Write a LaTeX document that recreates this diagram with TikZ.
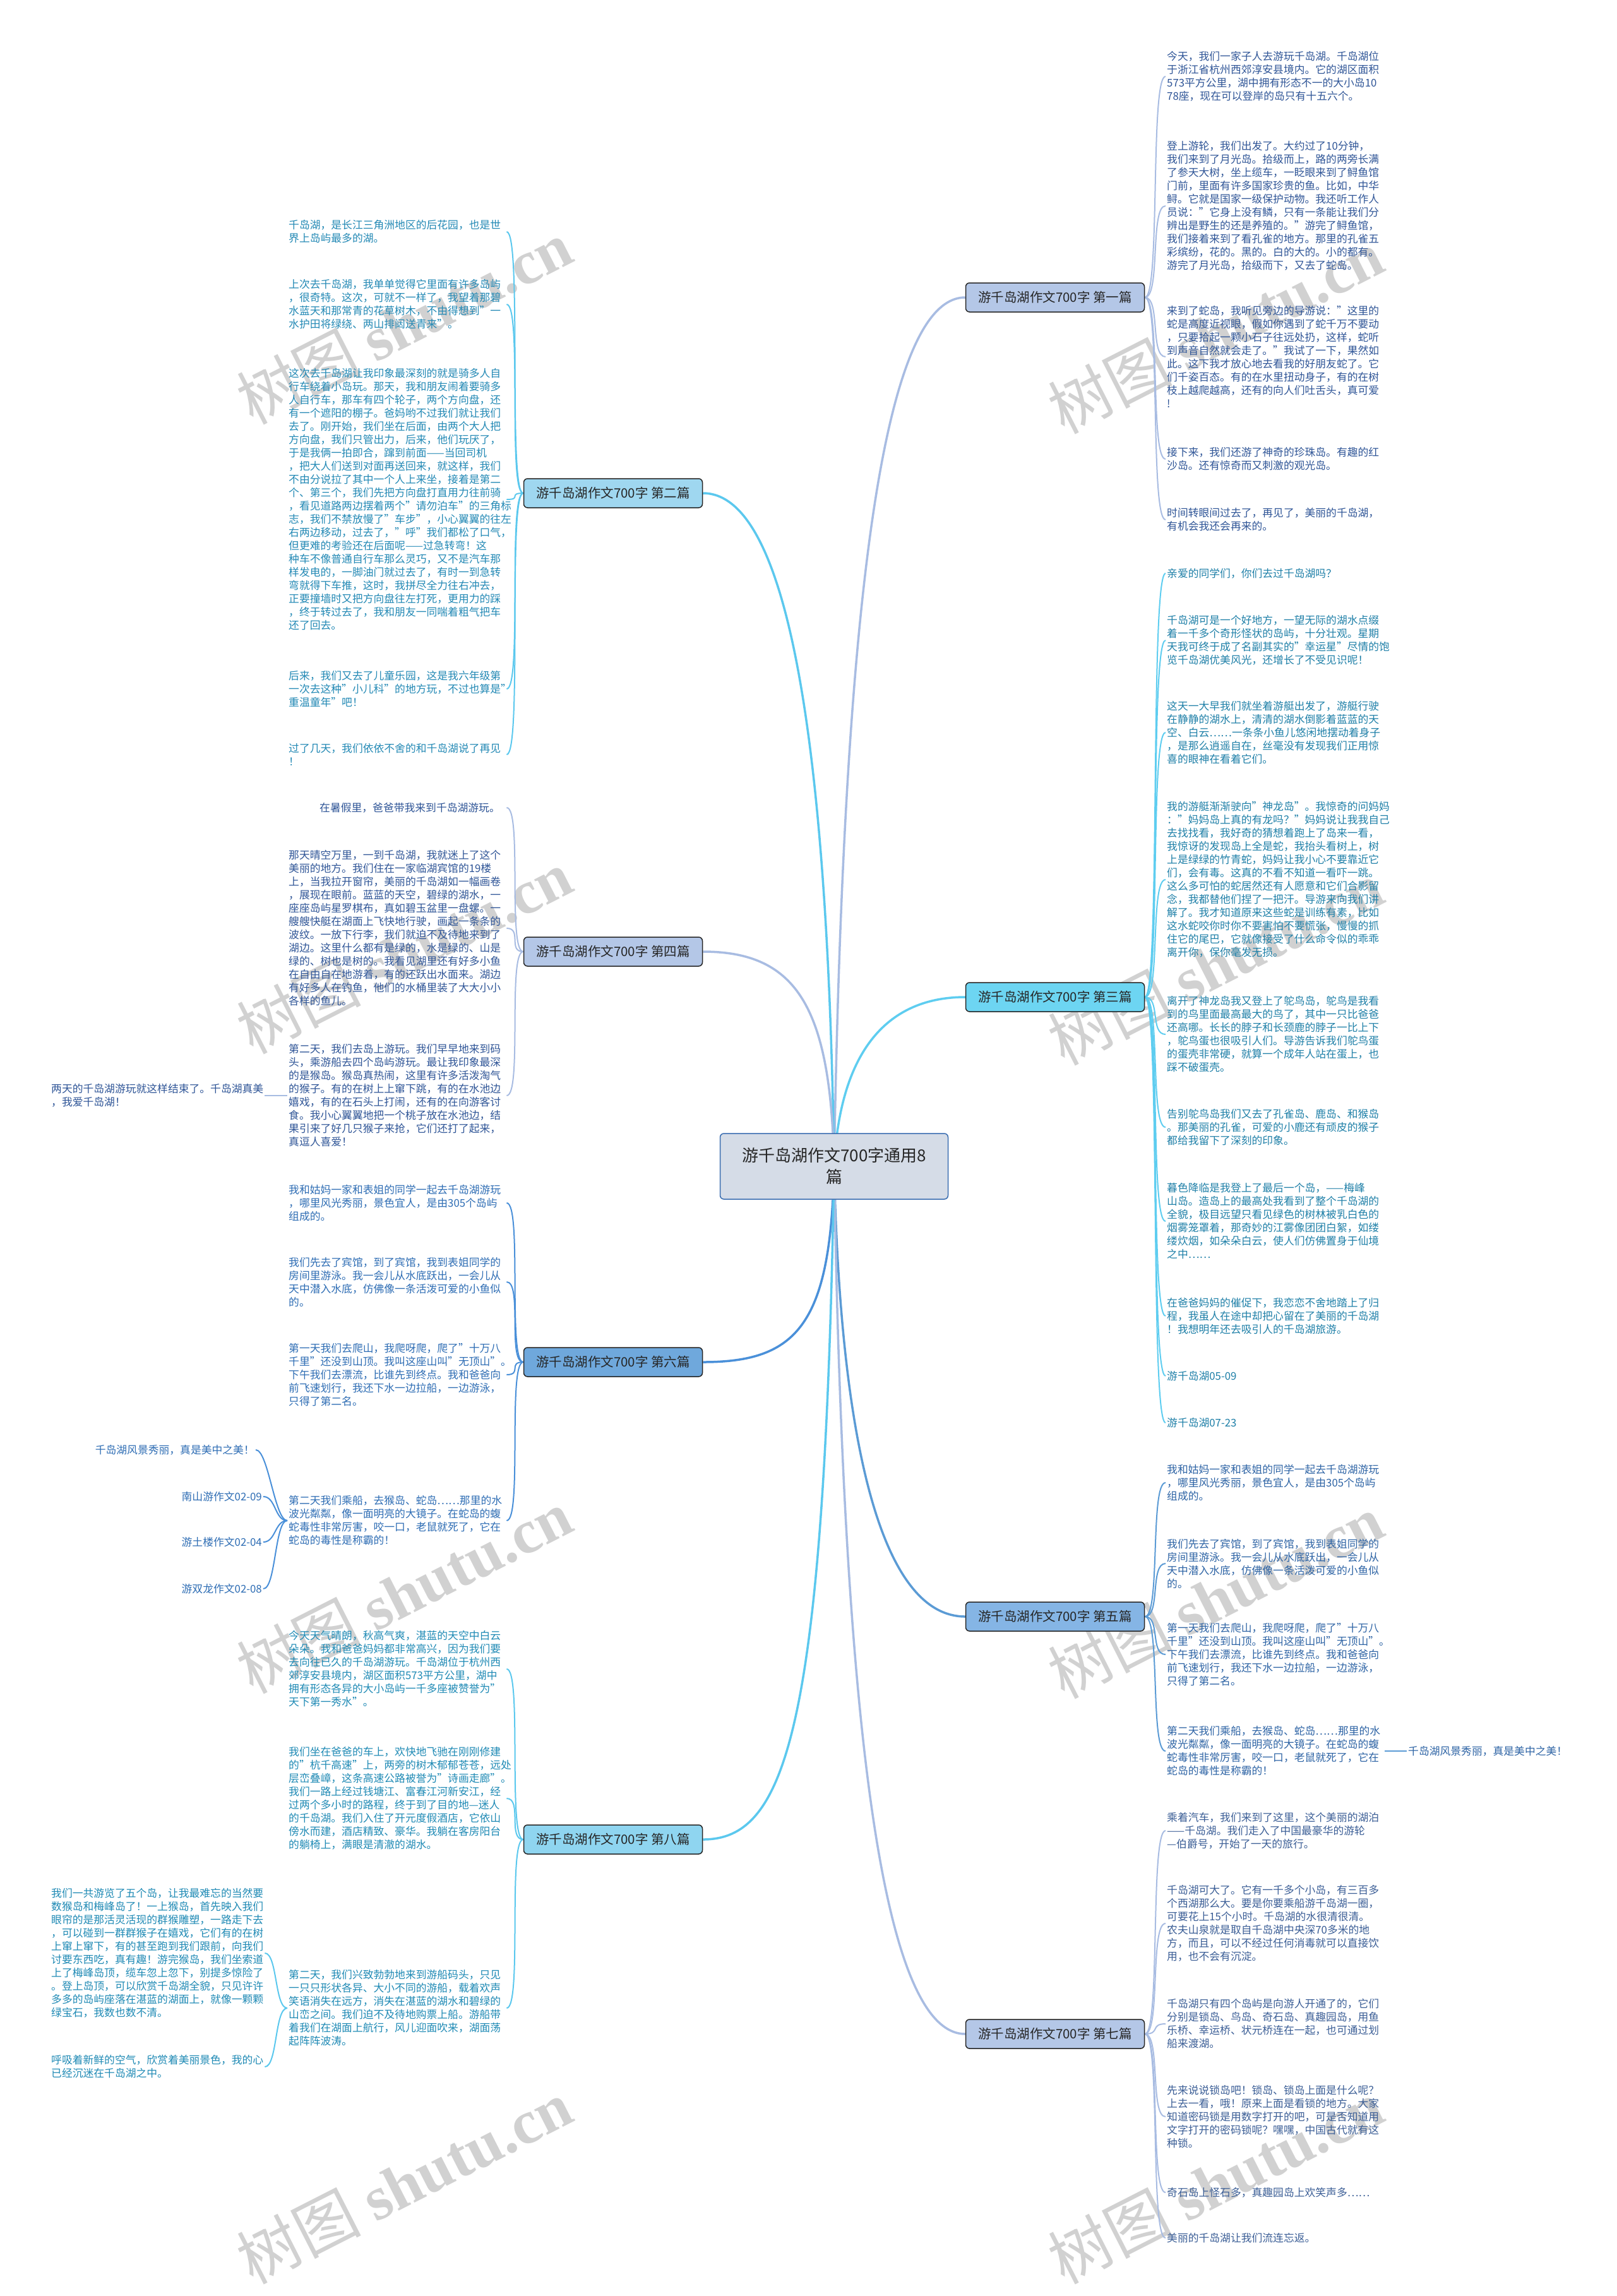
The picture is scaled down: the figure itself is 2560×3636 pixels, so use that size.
\documentclass[tikz,border=0pt]{standalone}
\usepackage{fontspec}
\setmainfont{Noto Sans CJK SC}
\newfontfamily\wmfont{Liberation Serif}
\usetikzlibrary{backgrounds}

\definecolor{rootfill}{HTML}{D5DCE7}
\definecolor{rootline}{HTML}{3A6DB0}
\definecolor{fillA}{HTML}{B4C7E7}
\definecolor{fillB}{HTML}{9FD7F0}
\definecolor{fillC}{HTML}{6DD5F2}
\definecolor{fillD}{HTML}{85B5E5}
\definecolor{fillE}{HTML}{6FA8DC}
\definecolor{fillF}{HTML}{8FD5F0}
\definecolor{lineA}{HTML}{A8BCE2}
\definecolor{lineB}{HTML}{5BC8EE}
\definecolor{lineC}{HTML}{5ECDF0}
\definecolor{lineD}{HTML}{5B9BD5}
\definecolor{lineE}{HTML}{4A90D9}
\definecolor{toneA}{HTML}{2F5597}
\definecolor{toneB}{HTML}{2389B5}
\definecolor{toneC}{HTML}{1F80A8}
\definecolor{toneD}{HTML}{2E64A5}
\definecolor{toneE}{HTML}{2E6DB4}
\definecolor{toneF}{HTML}{3B5E96}
\definecolor{toneG}{HTML}{1F8AB5}

\begin{document}
\begin{tikzpicture}[x=1pt, y=-1pt,
  every node/.style={inner sep=2pt},
  root/.style={draw=rootline, fill=rootfill, line width=1.5pt, rounded corners=6pt,
    minimum width=361pt, minimum height=104pt, align=center, text=black!85,
    font=\fontsize{26}{34}\selectfont},
  topic/.style={draw=black!85, line width=1.5pt, rounded corners=6pt,
    minimum width=283pt, minimum height=46pt, inner xsep=4pt, text=black!85,
    font=\fontsize{20.5}{24}\selectfont},
  leafR/.style={anchor=west, align=left, font=\fontsize{16.8}{21}\selectfont},
  leafL/.style={anchor=west, text width=343pt, align=left, font=\fontsize{16.8}{21}\selectfont},
  link/.style={line width=2pt},
  trunk/.style={line width=3.5pt},
  wmark/.style={text=black!18, rotate=27, font=\fontsize{98}{98}\selectfont}]

  \useasboundingbox (0,0) rectangle (2560,3636);

  % centre
  \node[root] (root) at (1321,1847) {游千岛湖作文700字通用8\\篇};

  % topics
  \node[topic, fill=fillA] (b1) at (1671,471) {游千岛湖作文700字 第一篇};
  \node[topic, fill=fillC] (b3) at (1671,1579) {游千岛湖作文700字 第三篇};
  \node[topic, fill=fillD] (b5) at (1671,2560) {游千岛湖作文700字 第五篇};
  \node[topic, fill=fillA] (b7) at (1671,3221) {游千岛湖作文700字 第七篇};
  \node[topic, fill=fillB] (b2) at (971,781) {游千岛湖作文700字 第二篇};
  \node[topic, fill=fillA] (b4) at (971,1507) {游千岛湖作文700字 第四篇};
  \node[topic, fill=fillE] (b6) at (971,2157) {游千岛湖作文700字 第六篇};
  \node[topic, fill=fillF] (b8) at (971,2913) {游千岛湖作文700字 第八篇};

  % first
  \node[leafR, text=toneA] (r1a) at (1846,121) {今天，我们一家子人去游玩千岛湖。千岛湖位\\于浙江省杭州西郊淳安县境内。它的湖区面积\\573平方公里，湖中拥有形态不一的大小岛10\\78座，现在可以登岸的岛只有十五六个。};
  \node[leafR, text=toneA] (r1b) at (1846,326) {登上游轮，我们出发了。大约过了10分钟，\\我们来到了月光岛。拾级而上，路的两旁长满\\了参天大树，坐上缆车，一眨眼来到了鲟鱼馆\\门前，里面有许多国家珍贵的鱼。比如，中华\\鲟。它就是国家一级保护动物。我还听工作人\\员说："它身上没有鳞，只有一条能让我们分\\辨出是野生的还是养殖的。"游完了鲟鱼馆，\\我们接着来到了看孔雀的地方。那里的孔雀五\\彩缤纷，花的。黑的。白的大的。小的都有。\\游完了月光岛，拾级而下，又去了蛇岛。};
  \node[leafR, text=toneA] (r1c) at (1846,565) {来到了蛇岛，我听见旁边的导游说："这里的\\蛇是高度近视眼，假如你遇到了蛇千万不要动\\，只要拾起一颗小石子往远处扔，这样，蛇听\\到声音自然就会走了。"我试了一下，果然如\\此。这下我才放心地去看我的好朋友蛇了。它\\们千姿百态。有的在水里扭动身子，有的在树\\枝上越爬越高，还有的向人们吐舌头，真可爱\\!};
  \node[leafR, text=toneA] (r1d) at (1846,727) {接下来，我们还游了神奇的珍珠岛。有趣的红\\沙岛。还有惊奇而又刺激的观光岛。};
  \node[leafR, text=toneA] (r1e) at (1846,823) {时间转眼间过去了，再见了，美丽的千岛湖，\\有机会我还会再来的。};

  % third
  \node[leafR, text=toneC] (r3a) at (1846,908) {亲爱的同学们，你们去过千岛湖吗？};
  \node[leafR, text=toneC] (r3b) at (1846,1014) {千岛湖可是一个好地方，一望无际的湖水点缀\\着一千多个奇形怪状的岛屿，十分壮观。星期\\天我可终于成了名副其实的"幸运星"尽情的饱\\览千岛湖优美风光，还增长了不受见识呢！};
  \node[leafR, text=toneC] (r3c) at (1846,1160) {这天一大早我们就坐着游艇出发了，游艇行驶\\在静静的湖水上，清清的湖水倒影着蓝蓝的天\\空、白云……一条条小鱼儿悠闲地摆动着身子\\，是那么逍遥自在，丝毫没有发现我们正用惊\\喜的眼神在看着它们。};
  \node[leafR, text=toneC] (r3d) at (1846,1393) {我的游艇渐渐驶向"神龙岛"。我惊奇的问妈妈\\："妈妈岛上真的有龙吗？"妈妈说让我我自己\\去找找看，我好奇的猜想着跑上了岛来一看，\\我惊讶的发现岛上全是蛇，我抬头看树上，树\\上是绿绿的竹青蛇，妈妈让我小心不要靠近它\\们，会有毒。这真的不看不知道一看吓一跳。\\这么多可怕的蛇居然还有人愿意和它们合影留\\念，我都替他们捏了一把汗。导游来向我们讲\\解了。我才知道原来这些蛇是训练有素，比如\\这水蛇咬你时你不要害怕不要慌张，慢慢的抓\\住它的尾巴，它就像接受了什么命令似的乖乖\\离开你，保你毫发无损。};
  \node[leafR, text=toneC] (r3e) at (1846,1638) {离开了神龙岛我又登上了鸵鸟岛，鸵鸟是我看\\到的鸟里面最高最大的鸟了，其中一只比爸爸\\还高哪。长长的脖子和长颈鹿的脖子一比上下\\，鸵鸟蛋也很吸引人们。导游告诉我们鸵鸟蛋\\的蛋壳非常硬，就算一个成年人站在蛋上，也\\踩不破蛋壳。};
  \node[leafR, text=toneC] (r3f) at (1846,1785) {告别鸵鸟岛我们又去了孔雀岛、鹿岛、和猴岛\\。那美丽的孔雀，可爱的小鹿还有顽皮的猴子\\都给我留下了深刻的印象。};
  \node[leafR, text=toneC] (r3g) at (1846,1934) {暮色降临是我登上了最后一个岛，——梅峰\\山岛。造岛上的最高处我看到了整个千岛湖的\\全貌，极目远望只看见绿色的树林被乳白色的\\烟雾笼罩着，那奇妙的江雾像团团白絮，如缕\\缕炊烟，如朵朵白云，使人们仿佛置身于仙境\\之中……};
  \node[leafR, text=toneC] (r3h) at (1846,2084) {在爸爸妈妈的催促下，我恋恋不舍地踏上了归\\程，我虽人在途中却把心留在了美丽的千岛湖\\！我想明年还去吸引人的千岛湖旅游。};
  \node[leafR, text=toneC] (r3i) at (1846,2179) {游千岛湖05-09};
  \node[leafR, text=toneC] (r3j) at (1846,2253) {游千岛湖07-23};

  % fifth
  \node[leafR, text=toneD] (r5a) at (1846,2348) {我和姑妈一家和表姐的同学一起去千岛湖游玩\\，哪里风光秀丽，景色宜人，是由305个岛屿\\组成的。};
  \node[leafR, text=toneD] (r5b) at (1846,2476) {我们先去了宾馆，到了宾馆，我到表姐同学的\\房间里游泳。我一会儿从水底跃出，一会儿从\\天中潜入水底，仿佛像一条活泼可爱的小鱼似\\的。};
  \node[leafR, text=toneD] (r5c) at (1846,2620) {第一天我们去爬山，我爬呀爬，爬了"十万八\\千里"还没到山顶。我叫这座山叫"无顶山"。\\下午我们去漂流，比谁先到终点。我和爸爸向\\前飞速划行，我还下水一边拉船，一边游泳，\\只得了第二名。};
  \node[leafR, text=toneD, text width=343pt] (r5d) at (1846,2773) {第二天我们乘船，去猴岛、蛇岛……那里的水\\波光粼粼，像一面明亮的大镜子。在蛇岛的蝮\\蛇毒性非常厉害，咬一口，老鼠就死了，它在\\蛇岛的毒性是称霸的！};
  \node[leafR, text=toneD] (r5d1) at (2228,2773) {千岛湖风景秀丽，真是美中之美！};

  % seventh
  \node[leafR, text=toneF] (r7a) at (1846,2899) {乘着汽车，我们来到了这里，这个美丽的湖泊\\——千岛湖。我们走入了中国最豪华的游轮\\—伯爵号，开始了一天的旅行。};
  \node[leafR, text=toneF] (r7b) at (1846,3046) {千岛湖可大了。它有一千多个小岛，有三百多\\个西湖那么大。要是你要乘船游千岛湖一圈，\\可要花上15个小时。千岛湖的水很清很清。\\农夫山泉就是取自千岛湖中央深70多米的地\\方，而且，可以不经过任何消毒就可以直接饮\\用，也不会有沉淀。};
  \node[leafR, text=toneF] (r7c) at (1846,3205) {千岛湖只有四个岛屿是向游人开通了的，它们\\分别是锁岛、鸟岛、奇石岛、真趣园岛，用鱼\\乐桥、幸运桥、状元桥连在一起，也可通过划\\船来渡湖。};
  \node[leafR, text=toneF] (r7d) at (1846,3352) {先来说说锁岛吧！锁岛、锁岛上面是什么呢？\\上去一看，哦！原来上面是看锁的地方。大家\\知道密码锁是用数字打开的吧，可是否知道用\\文字打开的密码锁呢？嘿嘿，中国古代就有这\\种锁。};
  \node[leafR, text=toneF] (r7e) at (1846,3472) {奇石岛上怪石多，真趣园岛上欢笑声多……};
  \node[leafR, text=toneF] (r7f) at (1846,3544) {美丽的千岛湖让我们流连忘返。};

  % second
  \node[leafL, text=toneB] (l2a) at (455,367) {千岛湖，是长江三角洲地区的后花园，也是世\\界上岛屿最多的湖。};
  \node[leafL, text=toneB] (l2b) at (455,482) {上次去千岛湖，我单单觉得它里面有许多岛屿\\，很奇特。这次，可就不一样了，我望着那碧\\水蓝天和那常青的花草树木，不由得想到"一\\水护田将绿绕、两山排闼送青来"。};
  \node[leafL, text=toneB] (l2c) at (455,791) {这次去千岛湖让我印象最深刻的就是骑多人自\\行车绕着小岛玩。那天，我和朋友闹着要骑多\\人自行车，那车有四个轮子，两个方向盘，还\\有一个遮阳的棚子。爸妈哟不过我们就让我们\\去了。刚开始，我们坐在后面，由两个大人把\\方向盘，我们只管出力，后来，他们玩厌了，\\于是我俩一拍即合，蹿到前面——当回司机\\，把大人们送到对面再送回来，就这样，我们\\不由分说拉了其中一个人上来坐，接着是第二\\个、第三个，我们先把方向盘打直用力往前骑\\，看见道路两边摆着两个"请勿泊车"的三角标\\志，我们不禁放慢了"车步"，小心翼翼的往左\\右两边移动，过去了，"呼"我们都松了口气，\\但更难的考验还在后面呢——过急转弯！这\\种车不像普通自行车那么灵巧，又不是汽车那\\样发电的，一脚油门就过去了，有时一到急转\\弯就得下车推，这时，我拼尽全力往右冲去，\\正要撞墙时又把方向盘往左打死，更用力的踩\\，终于转过去了，我和朋友一同喘着粗气把车\\还了回去。};
  \node[leafL, text=toneB] (l2d) at (455,1091) {后来，我们又去了儿童乐园，这是我六年级第\\一次去这种"小儿科"的地方玩，不过也算是"\\重温童年"吧！};
  \node[leafL, text=toneB] (l2e) at (455,1195) {过了几天，我们依依不舍的和千岛湖说了再见\\！};

  % fourth
  \node[leafL, text=toneA] (l4a) at (455,1279) {\hspace*{49pt}在暑假里，爸爸带我来到千岛湖游玩。};
  \node[leafL, text=toneA] (l4b) at (455,1470) {那天晴空万里，一到千岛湖，我就迷上了这个\\美丽的地方。我们住在一家临湖宾馆的19楼\\上，当我拉开窗帘，美丽的千岛湖如一幅画卷\\，展现在眼前。蓝蓝的天空，碧绿的湖水，一\\座座岛屿星罗棋布，真如碧玉盆里一盘螺。一\\艘艘快艇在湖面上飞快地行驶，画起一条条的\\波纹。一放下行李，我们就迫不及待地来到了\\湖边。这里什么都有是绿的，水是绿的、山是\\绿的、树也是树的。我看见湖里还有好多小鱼\\在自由自在地游着，有的还跃出水面来。湖边\\有好多人在钓鱼，他们的水桶里装了大大小小\\各样的鱼儿。};
  \node[leafL, text=toneA] (l4c) at (455,1735) {第二天，我们去岛上游玩。我们早早地来到码\\头，乘游船去四个岛屿游玩。最让我印象最深\\的是猴岛。猴岛真热闹，这里有许多活泼淘气\\的猴子。有的在树上上窜下跳，有的在水池边\\嬉戏，有的在石头上打闹，还有的在向游客讨\\食。我小心翼翼地把一个桃子放在水池边，结\\果引来了好几只猴子来抢，它们还打了起来，\\真逗人喜爱！};
  \node[leafR, text=toneA] (l4c1) at (79,1735) {两天的千岛湖游玩就这样结束了。千岛湖真美\\，我爱千岛湖！};

  % sixth
  \node[leafL, text=toneE] (l6a) at (455,1905) {我和姑妈一家和表姐的同学一起去千岛湖游玩\\，哪里风光秀丽，景色宜人，是由305个岛屿\\组成的。};
  \node[leafL, text=toneE] (l6b) at (455,2030) {我们先去了宾馆，到了宾馆，我到表姐同学的\\房间里游泳。我一会儿从水底跃出，一会儿从\\天中潜入水底，仿佛像一条活泼可爱的小鱼似\\的。};
  \node[leafL, text=toneE] (l6c) at (455,2177) {第一天我们去爬山，我爬呀爬，爬了"十万八\\千里"还没到山顶。我叫这座山叫"无顶山"。\\下午我们去漂流，比谁先到终点。我和爸爸向\\前飞速划行，我还下水一边拉船，一边游泳，\\只得了第二名。};
  \node[leafL, text=toneE] (l6d) at (455,2408) {第二天我们乘船，去猴岛、蛇岛……那里的水\\波光粼粼，像一面明亮的大镜子。在蛇岛的蝮\\蛇毒性非常厉害，咬一口，老鼠就死了，它在\\蛇岛的毒性是称霸的！};
  \node[leafR, anchor=east, text=toneE] (l6d1) at (405,2296) {千岛湖风景秀丽，真是美中之美！};
  \node[leafR, anchor=east, text=toneE] (l6d2) at (417,2370) {南山游作文02-09};
  \node[leafR, anchor=east, text=toneE] (l6d3) at (417,2442) {游土楼作文02-04};
  \node[leafR, anchor=east, text=toneE] (l6d4) at (417,2516) {游双龙作文02-08};

  % eighth
  \node[leafL, text=toneG] (l8a) at (455,2643) {今天天气晴朗，秋高气爽，湛蓝的天空中白云\\朵朵。我和爸爸妈妈都非常高兴，因为我们要\\去向往已久的千岛湖游玩。千岛湖位于杭州西\\郊淳安县境内，湖区面积573平方公里，湖中\\拥有形态各异的大小岛屿一千多座被赞誉为"\\天下第一秀水"。};
  \node[leafL, text=toneG] (l8b) at (455,2848) {我们坐在爸爸的车上，欢快地飞驰在刚刚修建\\的"杭千高速"上，两旁的树木郁郁苍苍，远处\\层峦叠嶂，这条高速公路被誉为"诗画走廊"。\\我们一路上经过钱塘江、富春江河新安江，经\\过两个多小时的路程，终于到了目的地—迷人\\的千岛湖。我们入住了开元度假酒店，它依山\\傍水而建，酒店精致、豪华。我躺在客房阳台\\的躺椅上，满眼是清澈的湖水。};
  \node[leafL, text=toneG] (l8c) at (455,3180) {第二天，我们兴致勃勃地来到游船码头，只见\\一只只形状各异、大小不同的游船，载着欢声\\笑语消失在远方，消失在湛蓝的湖水和碧绿的\\山峦之间。我们迫不及待地购票上船。游船带\\着我们在湖面上航行，风儿迎面吹来，湖面荡\\起阵阵波涛。};
  \node[leafR, text=toneG] (l8c1) at (79,3093) {我们一共游览了五个岛，让我最难忘的当然要\\数猴岛和梅峰岛了！一上猴岛，首先映入我们\\眼帘的是那活灵活现的群猴雕塑，一路走下去\\，可以碰到一群群猴子在嬉戏，它们有的在树\\上窜上窜下，有的甚至跑到我们跟前，向我们\\讨要东西吃，真有趣！游完猴岛，我们坐索道\\上了梅峰岛顶，缆车忽上忽下，别提多惊险了\\。登上岛顶，可以欣赏千岛湖全貌，只见许许\\多多的岛屿座落在湛蓝的湖面上，就像一颗颗\\绿宝石，我数也数不清。};
  \node[leafR, text=toneG] (l8c2) at (79,3273) {呼吸着新鲜的空气，欣赏着美丽景色，我的心\\已经沉迷在千岛湖之中。};

  \begin{scope}[on background layer]
    \fill[white] (0,0) rectangle (2560,3636);

    % watermarks
    \foreach \wx/\wy [count=\i] in {640/510, 1925/525, 640/1507, 1925/1525,
                                   640/2520, 1925/2528, 640/3455, 1925/3455}
      \node[wmark] (wm\i) at (\wx,\wy) {树图 {\wmfont\bfseries shutu.cn}};

    % trunks
    \draw[trunk, lineA] (root.center) .. controls +(15,-900) and +(-130,0) .. (b1.west);
    \draw[trunk, lineC] (root.center) .. controls +(10,-200) and +(-110,0) .. (b3.west);
    \draw[trunk, lineD] (root.center) .. controls +(10,450) and +(-130,0) .. (b5.west);
    \draw[trunk, lineA] (root.center) .. controls +(15,900) and +(-130,0) .. (b7.west);
    \draw[trunk, lineB] (root.center) .. controls +(-10,-700) and +(130,0) .. (b2.east);
    \draw[trunk, lineA] (root.center) .. controls +(-5,-250) and +(150,0) .. (b4.east);
    \draw[trunk, lineE] (root.center) .. controls +(-5,250) and +(150,0) .. (b6.east);
    \draw[trunk, lineB] (root.center) .. controls +(-15,900) and +(130,0) .. (b8.east);

    % right branches
    \foreach \leaf in {r1a,r1b,r1c,r1d,r1e}
      \draw[link, lineA] (b1.east) .. controls +(25,0) and +(-25,0) .. (\leaf.west);
    \foreach \leaf in {r3a,r3b,r3c,r3d,r3e,r3f,r3g,r3h,r3i,r3j}
      \draw[link, lineC] (b3.east) .. controls +(25,0) and +(-25,0) .. (\leaf.west);
    \foreach \leaf in {r5a,r5b,r5c,r5d}
      \draw[link, lineD] (b5.east) .. controls +(25,0) and +(-25,0) .. (\leaf.west);
    \draw[link, lineD] (r5d.east) -- (r5d1.west);
    \foreach \leaf in {r7a,r7b,r7c,r7d,r7e,r7f}
      \draw[link, lineA] (b7.east) .. controls +(25,0) and +(-25,0) .. (\leaf.west);

    % left branches
    \foreach \leaf in {l2a,l2b,l2c,l2d,l2e}
      \draw[link, lineB] (b2.west) .. controls +(-25,0) and +(25,0) .. (\leaf.east);
    \foreach \leaf in {l4a,l4b,l4c}
      \draw[link, lineA] (b4.west) .. controls +(-25,0) and +(25,0) .. (\leaf.east);
    \draw[link, lineA] (l4c.west) -- (l4c1.east);
    \foreach \leaf in {l6a,l6b,l6c,l6d}
      \draw[link, lineE] (b6.west) .. controls +(-25,0) and +(25,0) .. (\leaf.east);
    \foreach \leaf in {l6d1,l6d2,l6d3,l6d4}
      \draw[link, lineE] (l6d.west) .. controls +(-20,0) and +(20,0) .. (\leaf.east);
    \foreach \leaf in {l8a,l8b,l8c}
      \draw[link, lineB] (b8.west) .. controls +(-25,0) and +(25,0) .. (\leaf.east);
    \foreach \leaf in {l8c1,l8c2}
      \draw[link, lineB] (l8c.west) .. controls +(-20,0) and +(20,0) .. (\leaf.east);
  \end{scope}
\end{tikzpicture}
\end{document}
